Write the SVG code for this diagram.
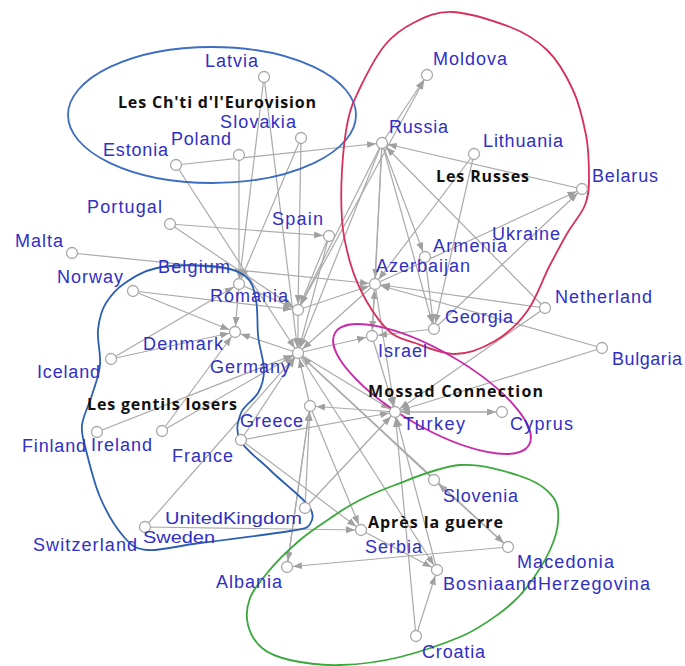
<svg xmlns="http://www.w3.org/2000/svg" width="685" height="666" viewBox="0 0 685 666">
<style>
.e line{stroke:#aaaaaa;stroke-width:1.2;fill:none;marker-end:url(#a)}
.n circle{fill:#ffffff;stroke:#a8a8a8;stroke-width:1.3}
.n text{font-family:"Liberation Sans",Arial,sans-serif;font-size:18px;fill:#3030c4}
.n text.sm{font-size:16px}
.gl{font-family:"Open Sans","Liberation Sans",sans-serif;font-size:16px;font-weight:bold;fill:#111111}
.rg{fill:none;stroke-width:1.8}
</style>
<defs>
<marker id="a" markerUnits="userSpaceOnUse" markerWidth="16" markerHeight="8" refX="15" refY="3.5" orient="auto">
<path d="M0,0 L9,3.5 L0,7 z" fill="#a0a0a0"/>
</marker>
</defs>
<rect width="685" height="666" fill="#ffffff"/>
<g id="connectors" class="e">
<line x1="176" y1="165" x2="382" y2="143"/>
<line x1="176" y1="165" x2="298" y2="353"/>
<line x1="239" y1="155" x2="239" y2="284"/>
<line x1="264" y1="77" x2="239" y2="284"/>
<line x1="264" y1="77" x2="298" y2="353"/>
<line x1="301" y1="138" x2="298" y2="310"/>
<line x1="301" y1="138" x2="239" y2="284"/>
<line x1="170" y1="224" x2="329" y2="236"/>
<line x1="170" y1="224" x2="298" y2="310"/>
<line x1="329" y1="236" x2="298" y2="310"/>
<line x1="329" y1="236" x2="298" y2="353"/>
<line x1="72" y1="253" x2="375" y2="284"/>
<line x1="133" y1="291" x2="298" y2="310"/>
<line x1="133" y1="291" x2="235" y2="332"/>
<line x1="111" y1="359" x2="235" y2="332"/>
<line x1="111" y1="359" x2="239" y2="284"/>
<line x1="97" y1="432" x2="298" y2="353"/>
<line x1="162" y1="431" x2="235" y2="332"/>
<line x1="162" y1="431" x2="298" y2="353"/>
<line x1="241" y1="440" x2="395" y2="412"/>
<line x1="241" y1="440" x2="298" y2="353"/>
<line x1="241" y1="440" x2="361" y2="530"/>
<line x1="145" y1="527" x2="298" y2="353"/>
<line x1="145" y1="527" x2="361" y2="530"/>
<line x1="305" y1="508" x2="395" y2="412"/>
<line x1="305" y1="508" x2="310" y2="406"/>
<line x1="298" y1="353" x2="235" y2="332"/>
<line x1="239" y1="284" x2="235" y2="332"/>
<line x1="239" y1="284" x2="298" y2="310"/>
<line x1="382" y1="143" x2="427" y2="75"/>
<line x1="298" y1="310" x2="427" y2="75"/>
<line x1="582" y1="189" x2="382" y2="143"/>
<line x1="474" y1="154" x2="375" y2="284"/>
<line x1="474" y1="154" x2="434" y2="329"/>
<line x1="382" y1="143" x2="425" y2="257"/>
<line x1="382" y1="143" x2="434" y2="329"/>
<line x1="382" y1="143" x2="375" y2="284"/>
<line x1="382" y1="143" x2="372" y2="336"/>
<line x1="382" y1="143" x2="298" y2="310"/>
<line x1="382" y1="143" x2="298" y2="353"/>
<line x1="545" y1="308" x2="382" y2="143"/>
<line x1="434" y1="329" x2="582" y2="189"/>
<line x1="375" y1="284" x2="582" y2="189"/>
<line x1="425" y1="257" x2="434" y2="329"/>
<line x1="372" y1="336" x2="375" y2="284"/>
<line x1="298" y1="353" x2="372" y2="336"/>
<line x1="434" y1="329" x2="372" y2="336"/>
<line x1="375" y1="284" x2="395" y2="412"/>
<line x1="545" y1="308" x2="375" y2="284"/>
<line x1="545" y1="308" x2="395" y2="412"/>
<line x1="602" y1="348" x2="375" y2="284"/>
<line x1="602" y1="348" x2="395" y2="412"/>
<line x1="395" y1="412" x2="502" y2="412"/>
<line x1="502" y1="412" x2="395" y2="412"/>
<line x1="395" y1="412" x2="310" y2="406"/>
<line x1="298" y1="353" x2="395" y2="412"/>
<line x1="287" y1="567" x2="310" y2="406"/>
<line x1="310" y1="406" x2="287" y2="567"/>
<line x1="508" y1="547" x2="287" y2="567"/>
<line x1="361" y1="530" x2="437" y2="570"/>
<line x1="416" y1="636" x2="437" y2="570"/>
<line x1="416" y1="636" x2="395" y2="412"/>
<line x1="437" y1="570" x2="395" y2="412"/>
<line x1="434" y1="480" x2="298" y2="353"/>
<line x1="508" y1="547" x2="434" y2="480"/>
<line x1="310" y1="406" x2="361" y2="530"/>
<line x1="298" y1="310" x2="375" y2="284"/>
<line x1="298" y1="310" x2="298" y2="353"/>
<line x1="375" y1="284" x2="298" y2="353"/>
<line x1="310" y1="406" x2="298" y2="353"/>
<line x1="372" y1="336" x2="395" y2="412"/>
<line x1="298" y1="353" x2="437" y2="570"/>
<line x1="298" y1="353" x2="508" y2="547"/>
</g>
<g id="regions">
<g id="region-chti">
<ellipse class="rg" cx="212" cy="115" rx="144" ry="68" stroke="#3d6dc2"/>
<text class="gl" x="118" y="108" textLength="198">Les Ch'ti d'l'Eurovision</text>
</g>
<g id="region-russes">
<path class="rg" stroke="#d8305a" d="M453,12 C469,13 494,21 510,27 S536,39.5 547,50 S566.5,76 573,90 S583,120 586,135 S589,166 589,178 S588.5,196 585,205 S574,222 568,232 S557,252 550,265 S537,297 528,310 S507,334 495,341 S468,354 455,354 S426,347 415,343 S398,339 390,332 S374,314 367,302 S354,276 350,262 S343,235 342,220 S341,187 342,170 S345,134 348,120 S354,100.5 360,88 S376,56 385,45 S404,27.5 415,22 S437,11 453,12 Z"/>
<text class="gl" x="436" y="182" textLength="93">Les Russes</text>
</g>
<g id="region-losers">
<path class="rg" stroke="#2c5fb0" d="M157,268 C171,265 195,265 210,266 S237,270 245,276 S254,290 256,300 S257,323 258,335 S264,360 264,370 S262,386 258,393 S244,405 241,413 S235,430 240,440 S259,459 270,470 S301,496 308,505 S313,520 310,524 S308,528 290,531 S224,540 200,543 S161,551 148,550 S132,546 124,537 S106,511 100,497 S89,462 86,450 S81,434 82,425 S89,405 92,395 S99,376 100,365 S97,340 98,330 S101,311 106,303 S116,289 125,283 S143,271 157,268 Z"/>
<text class="gl" x="87" y="410" textLength="150">Les gentils losers</text>
</g>
<g id="region-mossad">
<ellipse class="rg" cx="432" cy="389" rx="112" ry="38" transform="rotate(30 432 389)" stroke="#c82aa8"/>
<text class="gl" x="368" y="397" textLength="175">Mossad Connection</text>
</g>
<g id="region-guerre">
<path class="rg" stroke="#3aa83a" d="M395,485 C411,479 439,466.5 460,465 S504.5,471 520,476 S547,489 553,497 S558.5,513 558,522 S555,539 550,550 S535,576.5 527,587 S511,605 500,613 S477,630 460,637 S420,652 400,657 S358,664.5 340,665 S303,663 290,660 S269,654 262,648 S250,633 248,625 S246.7,607 250,598 S260,582 268,572 S289,549.5 300,540 S325,522 335,515 S352,504 362,499 S379,491 395,485 Z"/>
<text class="gl" x="368" y="528" textLength="135">Après la guerre</text>
</g>
</g>
<g id="nodes">
<g id="n-latvia" class="n"><circle cx="264" cy="77" r="5.5"/><text x="205" y="67" textLength="53">Latvia</text></g>
<g id="n-slovakia" class="n"><circle cx="301" cy="138" r="5.5"/><text x="220" y="128" textLength="76">Slovakia</text></g>
<g id="n-poland" class="n"><circle cx="239" cy="155" r="5.5"/><text x="171" y="145" textLength="60">Poland</text></g>
<g id="n-estonia" class="n"><circle cx="176" cy="165" r="5.5"/><text x="103" y="156" textLength="65">Estonia</text></g>
<g id="n-portugal" class="n"><circle cx="170" cy="224" r="5.5"/><text x="87" y="213" textLength="75">Portugal</text></g>
<g id="n-spain" class="n"><circle cx="329" cy="236" r="5.5"/><text x="272" y="225" textLength="51">Spain</text></g>
<g id="n-malta" class="n"><circle cx="72" cy="253" r="5.5"/><text x="15" y="247" textLength="48">Malta</text></g>
<g id="n-belgium" class="n"><circle cx="239" cy="284" r="5.5"/><text x="158" y="273" textLength="72">Belgium</text></g>
<g id="n-norway" class="n"><circle cx="133" cy="291" r="5.5"/><text x="57" y="283" textLength="66">Norway</text></g>
<g id="n-romania" class="n"><circle cx="298" cy="310" r="5.5"/><text x="210" y="302" textLength="78">Romania</text></g>
<g id="n-denmark" class="n"><circle cx="235" cy="332" r="5.5"/><text x="143" y="350" textLength="80">Denmark</text></g>
<g id="n-iceland" class="n"><circle cx="111" cy="359" r="5.5"/><text x="37" y="378" textLength="63">Iceland</text></g>
<g id="n-germany" class="n"><circle cx="298" cy="353" r="5.5"/><text x="210" y="373" textLength="80">Germany</text></g>
<g id="n-finland" class="n"><circle cx="97" cy="432" r="5.5"/><text x="22" y="452" textLength="64">Finland</text></g>
<g id="n-ireland" class="n"><circle cx="162" cy="431" r="5.5"/><text x="91" y="451" textLength="61">Ireland</text></g>
<g id="n-greece" class="n"><circle cx="310" cy="406" r="5.5"/><text x="240" y="427" textLength="63">Greece</text></g>
<g id="n-france" class="n"><circle cx="241" cy="440" r="5.5"/><text x="172" y="462" textLength="61">France</text></g>
<g id="n-uk" class="n"><circle cx="305" cy="508" r="5.5"/><text class="sm" x="165" y="524" textLength="137" lengthAdjust="spacingAndGlyphs">UnitedKingdom</text></g>
<g id="n-sweden" class="n"><circle cx="145" cy="527" r="5.5"/><text class="sm" x="143" y="543" textLength="72" lengthAdjust="spacingAndGlyphs">Sweden</text></g>
<g id="n-switzerland" class="n"><text x="33" y="551" textLength="104">Switzerland</text></g>
<g id="n-albania" class="n"><circle cx="287" cy="567" r="5.5"/><text x="216" y="588" textLength="66">Albania</text></g>
<g id="n-moldova" class="n"><circle cx="427" cy="75" r="5.5"/><text x="433" y="65" textLength="74">Moldova</text></g>
<g id="n-russia" class="n"><circle cx="382" cy="143" r="5.5"/><text x="389" y="133" textLength="59">Russia</text></g>
<g id="n-lithuania" class="n"><circle cx="474" cy="154" r="5.5"/><text x="483" y="147" textLength="80">Lithuania</text></g>
<g id="n-belarus" class="n"><circle cx="582" cy="189" r="5.5"/><text x="592" y="182" textLength="66">Belarus</text></g>
<g id="n-ukraine" class="n"><text x="492" y="240" textLength="68">Ukraine</text></g>
<g id="n-armenia" class="n"><circle cx="425" cy="257" r="5.5"/><text x="433" y="252" textLength="74">Armenia</text></g>
<g id="n-azerbaijan" class="n"><circle cx="375" cy="284" r="5.5"/><text x="376" y="272" textLength="94">Azerbaijan</text></g>
<g id="n-netherland" class="n"><circle cx="545" cy="308" r="5.5"/><text x="555" y="303" textLength="97">Netherland</text></g>
<g id="n-georgia" class="n"><circle cx="434" cy="329" r="5.5"/><text x="445" y="323" textLength="68">Georgia</text></g>
<g id="n-israel" class="n"><circle cx="372" cy="336" r="5.5"/><text x="378" y="357" textLength="49">Israel</text></g>
<g id="n-bulgaria" class="n"><circle cx="602" cy="348" r="5.5"/><text x="612" y="365" textLength="70">Bulgaria</text></g>
<g id="n-turkey" class="n"><circle cx="395" cy="412" r="5.5"/><text x="403" y="430" textLength="62">Turkey</text></g>
<g id="n-cyprus" class="n"><circle cx="502" cy="412" r="5.5"/><text x="510" y="430" textLength="63">Cyprus</text></g>
<g id="n-slovenia" class="n"><circle cx="434" cy="480" r="5.5"/><text x="443" y="502" textLength="75">Slovenia</text></g>
<g id="n-serbia" class="n"><circle cx="361" cy="530" r="5.5"/><text x="365" y="553" textLength="57">Serbia</text></g>
<g id="n-macedonia" class="n"><circle cx="508" cy="547" r="5.5"/><text x="517" y="568" textLength="97">Macedonia</text></g>
<g id="n-bosnia" class="n"><circle cx="437" cy="570" r="5.5"/><text x="443" y="590" textLength="207">BosniaandHerzegovina</text></g>
<g id="n-croatia" class="n"><circle cx="416" cy="636" r="5.5"/><text x="422" y="658" textLength="63">Croatia</text></g>
</g>
</svg>
